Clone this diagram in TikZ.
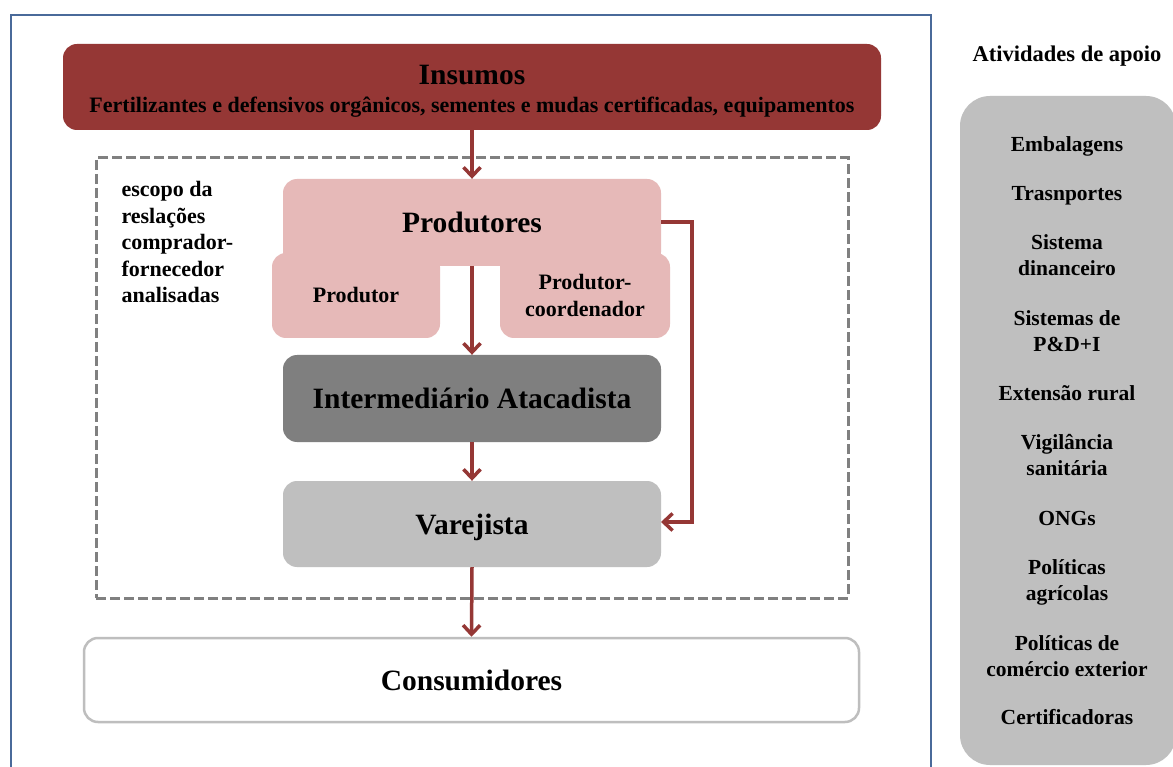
\documentclass[tikz,border=0pt]{standalone}
\usepackage{fontspec}
\setmainfont{Liberation Serif}
\usetikzlibrary{arrows.meta}
\definecolor{insred}{RGB}{149,55,53}
\definecolor{arrred}{RGB}{149,55,53}
\definecolor{pinkbox}{RGB}{230,185,184}
\definecolor{darkgraybox}{RGB}{127,127,127}
\definecolor{lightgraybox}{RGB}{191,191,191}
\definecolor{framegray}{RGB}{190,190,190}
\definecolor{dashgray}{RGB}{128,128,128}
\definecolor{frameblue}{RGB}{74,106,154}
\tikzset{
  boxbase/.style={rectangle, rounded corners=14pt, inner sep=0pt, align=center, text=black},
  bigtxt/.style={font=\fontsize{29.5}{33}\selectfont\bfseries},
  medtxt/.style={font=\fontsize{22}{26.5}\selectfont\bfseries},
  sidetxt/.style={font=\fontsize{21.5}{26}\selectfont\bfseries},
  flow/.style={draw=arrred, line width=3.5pt, -{Straight Barb[length=9pt,width=17pt,line width=3.5pt]}},
  sideitem/.style={sidetxt, align=center, anchor=base},
}
\begin{document}
\begin{tikzpicture}[x=1pt,y=-1pt]
\clip (0,0) rectangle (1173,767);
\fill[white] (0,0) rectangle (1173,767);
% outer frame
\draw[frameblue, line width=2.5pt] (11,15) rectangle (931,800);
% dashed scope
\node[draw=dashgray, dash pattern=on 10pt off 4pt, line width=3pt, rectangle, minimum width=752pt, minimum height=440pt, inner sep=0pt] (scope) at (472,378) {};
\node[medtxt, align=left, anchor=north west] (scopetxt) at (118,178) {escopo da\\reslações\\comprador-\\fornecedor\\analisadas};
% insumos
\node[boxbase, fill=insred, minimum width=818pt, minimum height=86pt, medtxt] (ins) at (472,87) {\rule{0pt}{28pt}{\fontsize{29.5}{33}\selectfont Insumos}\\[1pt]Fertilizantes e defensivos orgânicos, sementes e mudas certificadas, equipamentos};
% produtores composite
\node[boxbase, fill=pinkbox, minimum width=378pt, minimum height=87pt, bigtxt, text depth=0pt] (prod) at (472,222.5) {\raisebox{1pt}{Produtores}};
\node[boxbase, fill=pinkbox, minimum width=168pt, minimum height=85pt, medtxt] (prodA) at (356,295.5) {Produtor};
\node[boxbase, fill=pinkbox, minimum width=170pt, minimum height=85pt, medtxt] (prodB) at (585,295.5) {Produtor-\\coordenador};
\node[boxbase, fill=darkgraybox, minimum width=378pt, minimum height=87pt, bigtxt] (inter) at (472,398.5) {Intermediário Atacadista};
\node[boxbase, fill=lightgraybox, minimum width=378pt, minimum height=86pt, bigtxt, text depth=0pt] (varej) at (472,524) {Varejista};
\node[boxbase, fill=white, draw=framegray, line width=2.5pt, minimum width=775pt, minimum height=84pt, bigtxt] (cons) at (471.5,680) {Consumidores};
% arrows
\coordinate (prodgap) at (472,266);
\draw[flow] (ins.south) -- (prod.north);
\draw[flow] (prodgap) -- (inter.north);
\draw[flow] (inter.south) -- (varej.north);
\draw[flow] (varej.south) -- (cons.north);
\coordinate (pr) at (661,222);
\coordinate (vr) at (661,522);
\draw[flow] (pr) -- (692,222) -- (692,522) -- (vr);
% right column
\node[font=\fontsize{22.5}{27}\selectfont\bfseries] (apoio) at (1067,56) {Atividades de apoio};
\node[rectangle, rounded corners=30pt, fill=lightgraybox, minimum width=216pt, minimum height=669pt, inner sep=0pt] (apoiobox) at (1068,430.5) {};
\node[sideitem] (s1) at (1067,152) {Embalagens};
\node[sideitem] (s2) at (1067,201) {Trasnportes};
\node[sideitem] (s3) at (1067,276) {Sistema\\dinanceiro};
\node[sideitem] (s4) at (1067,352) {Sistemas de\\P\&D+I};
\node[sideitem] (s5) at (1067,400) {Extensão rural};
\node[sideitem] (s6) at (1067,475) {Vigilância\\sanitária};
\node[sideitem] (s7) at (1067,525) {ONGs};
\node[sideitem] (s8) at (1067,600) {Políticas\\agrícolas};
\node[sideitem] (s9) at (1067,676) {Políticas de\\comércio exterior};
\node[sideitem] (s10) at (1067,724) {Certificadoras};
\end{tikzpicture}
\end{document}
